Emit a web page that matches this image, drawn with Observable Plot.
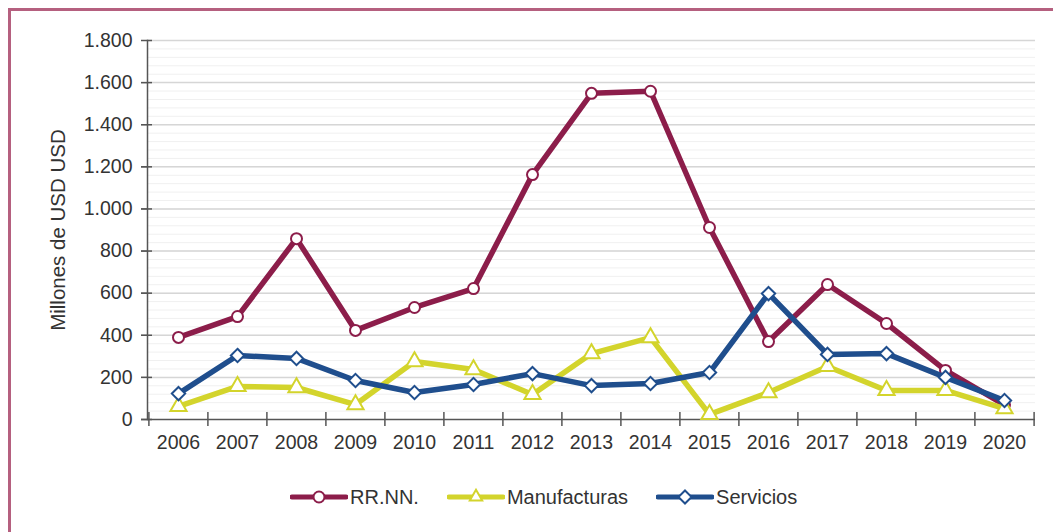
<!DOCTYPE html>
<html>
<head>
<meta charset="utf-8">
<script src="https://cdn.jsdelivr.net/npm/d3@7"></script>
<script src="https://cdn.jsdelivr.net/npm/@observablehq/plot@0.6"></script>
<style>
  html, body { margin: 0; padding: 0; background: #fff; }
  #wrap { position: relative; width: 1053px; height: 532px; overflow: hidden; background: #fff;
          font-family: "Liberation Sans", Arial, sans-serif; }
  #border { position: absolute; left: 8px; top: 8px; right: -10px; bottom: -10px;
            border-top: 3px solid #b5607f; border-left: 3px solid #b5607f; }
  #chart { position: absolute; left: 0; top: 0; }
  #legend { position: absolute; top: 483px; left: 290px; height: 28px;
            display: flex; justify-content: flex-start; align-items: center; gap: 28px;
            font-size: 20px; color: #333; }
  .item { display: flex; align-items: center; gap: 2px; }
  .item svg { display: block; }
</style>
</head>
<body>
<div id="wrap">
  <div id="border"></div>
  <div id="chart"></div>
  <div id="legend"></div>
</div>
<script>
// ---- data ----
const years = ["2006","2007","2008","2009","2010","2011","2012","2013","2014","2015","2016","2017","2018","2019","2020"];
const rrnn         = [390, 489, 859, 423, 532, 622, 1163, 1549, 1559, 912, 370, 641, 456, 233, 70];
const manufacturas = [ 62, 157, 152,  71, 275, 237,  119,  313,  389,  24, 128, 252, 138, 138, 52];
const servicios    = [123, 304, 290, 185, 128, 166,  218,  161,  171, 223, 598, 309, 313, 200, 90];
const seriesNames  = ["RR.NN.", "Manufacturas", "Servicios"];
const seriesValues = [rrnn, manufacturas, servicios];
const seriesColors = ["#8c1d4a", "#d3d42c", "#1f4e8d"];
const seriesSymbols = ["circle", "triangle", "diamond2"];
const yTicks = [0, 200, 400, 600, 800, 1000, 1200, 1400, 1600, 1800];
const yMinor = d3.range(0, 1801, 40);
const yLabel = "Millones de USD USD";

// ---- layout ----
const W = 1053, H = 470;
const mL = 147, mR = 18, mT = 40, mB = 51;
const frameW = W - mL - mR;
const half = frameW / years.length / 2;

const fmt = d3.formatLocale({decimal: ",", thousands: ".", grouping: [3], currency: ["", ""]}).format(",");

const rows = [];
seriesNames.forEach((s, si) => years.forEach((y, i) => rows.push({serie: s, year: y, value: seriesValues[si][i]})));

const marks = [
  Plot.ruleY(yMinor, {stroke: "#f0f0f0", strokeWidth: 1}),
  Plot.ruleY(yTicks.filter(v => v > 0), {stroke: "#d6d6d6", strokeWidth: 1.5}),
  Plot.axisY({ticks: yTicks, tickFormat: fmt, tickSize: 6, tickPadding: 9, fontSize: 19.5,
              label: null, color: "#333"}),
  Plot.axisY({ticks: [], tickSize: 0, label: yLabel, labelAnchor: "center", labelArrow: "none",
              labelOffset: 97, fontSize: 20.5, color: "#333"}),
  Plot.ruleY(yTicks, {stroke: "#555", strokeWidth: 1.5, insetLeft: -6, insetRight: frameW - 5}),
  Plot.frame({anchor: "left", stroke: "#555", strokeWidth: 1.5}),
  Plot.ruleY([0], {stroke: "#555", strokeWidth: 1.5, insetLeft: -6}),
  Plot.ruleX(years, {x: d => d, y1: 0, y2: 0, dx: -half, insetTop: -7, insetBottom: -7, stroke: "#555", strokeWidth: 1.5}),
  Plot.ruleX(years.slice(-1), {x: d => d, y1: 0, y2: 0, dx: half, insetTop: -7, insetBottom: -7, stroke: "#555", strokeWidth: 1.5}),
  Plot.axisX({tickSize: 0, tickPadding: 16, fontSize: 19.5, label: null, color: "#333"})
];
seriesNames.forEach((s, si) => {
  const data = rows.filter(r => r.serie === s);
  marks.push(Plot.line(data, {x: "year", y: "value", stroke: seriesColors[si], strokeWidth: 5.5,
                              strokeLinejoin: "round", strokeLinecap: "round"}));
  marks.push(Plot.dot(data, {x: "year", y: "value", symbol: seriesSymbols[si], r: si === 0 ? 5.5 : 6,
                             fill: "white", stroke: seriesColors[si], strokeWidth: 2}));
});

const chart = Plot.plot({
  width: W, height: H,
  marginLeft: mL, marginRight: mR, marginTop: mT, marginBottom: mB,
  style: {fontFamily: "\"Liberation Sans\", Arial, sans-serif", fontSize: "19px", background: "transparent", color: "#333"},
  x: {type: "point", domain: years, padding: 0.5},
  y: {domain: [0, 1800]},
  marks
});
document.getElementById("chart").appendChild(chart);

// ---- legend ----
const legend = document.getElementById("legend");
const legendSymbols = [d3.symbolCircle, d3.symbolTriangle2, d3.symbolDiamond2];
seriesNames.forEach((s, si) => {
  const item = document.createElement("div");
  item.className = "item";
  const sw = d3.create("svg").attr("width", 58).attr("height", 20);
  sw.append("line").attr("x1", 2).attr("x2", 56).attr("y1", 10).attr("y2", 10)
    .attr("stroke", seriesColors[si]).attr("stroke-width", 5).attr("stroke-linecap", "round");
  sw.append("path").attr("d", d3.symbol().type(legendSymbols[si]).size(si === 0 ? 95 : 110)())
    .attr("transform", "translate(29,10)").attr("fill", "white")
    .attr("stroke", seriesColors[si]).attr("stroke-width", 2);
  item.appendChild(sw.node());
  const t = document.createElement("span");
  t.textContent = s;
  item.appendChild(t);
  legend.appendChild(item);
});
</script>
</body>
</html>
